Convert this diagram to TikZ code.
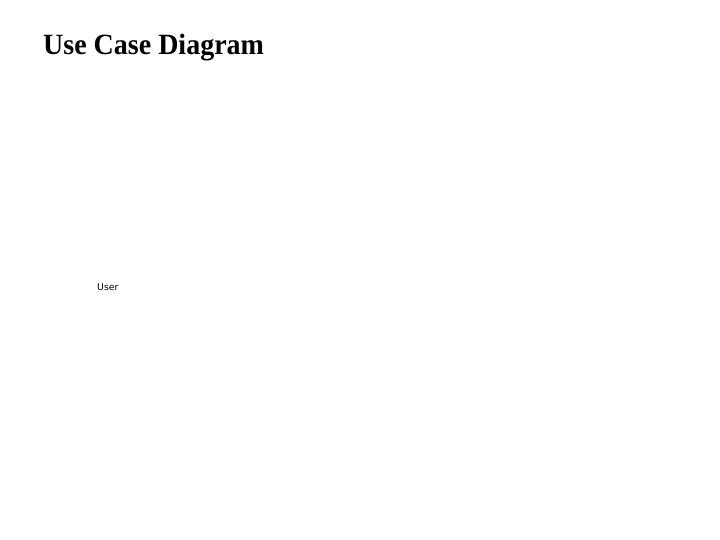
\documentclass[tikz,border=0pt]{standalone}
\usepackage{fontspec}
\setmainfont{Liberation Serif}
\newfontfamily\labelfont{DejaVu Sans}
\begin{document}
\begin{tikzpicture}[x=1pt,y=-1pt,
  titletext/.style={anchor=base west,inner sep=0pt,font=\fontsize{28}{32}\selectfont\bfseries},
  actorlabel/.style={anchor=base west,inner sep=0pt,font=\labelfont\fontsize{9.3}{11}\selectfont}]
\useasboundingbox[fill=white] (0,0) rectangle (720,540);
\node[titletext,yscale=1.05] (title) at (43,55) {Use Case Diagram};
\node[actorlabel] (user) at (97,290) {User};
\end{tikzpicture}
\end{document}
